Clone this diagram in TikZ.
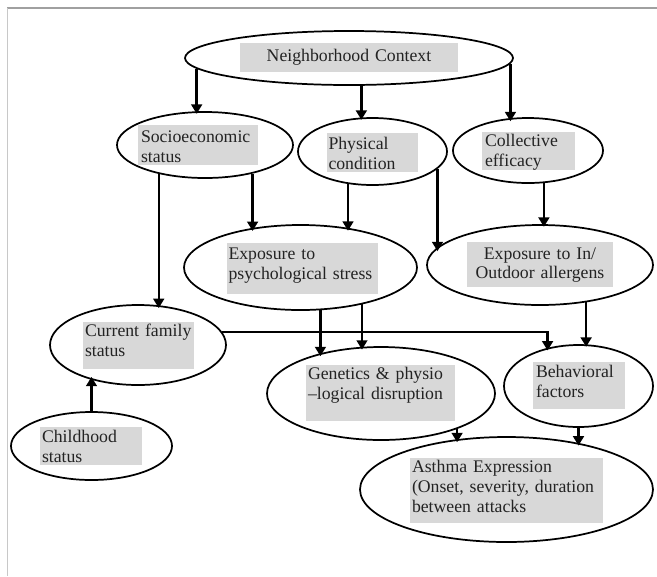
\documentclass[tikz,border=0pt]{standalone}
\usepackage{fontspec}
\setmainfont{Liberation Serif}
\usetikzlibrary{shapes.geometric,arrows.meta}
\definecolor{boxgray}{RGB}{216,216,216}
\definecolor{textcol}{RGB}{35,35,35}
\definecolor{frametop}{RGB}{160,160,160}
\definecolor{frameleft}{RGB}{200,200,200}
\tikzset{
  ell/.style 2 args={ellipse, draw=black, line width=1.3pt,
    minimum width=#1*1.5pt, minimum height=#2*1.5pt, inner sep=0pt},
  gbox/.style 2 args={fill=boxgray, inner sep=0pt,
    minimum width=#1*0.75pt, minimum height=#2*0.75pt},
  txt/.style={anchor=base west, inner sep=0pt, text width=220pt, align=left,
    font=\fontsize{13.3}{15}\selectfont, text=textcol},
  ctxt/.style={anchor=base, inner sep=0pt, text width=#1, align=center,
    font=\fontsize{13.3}{14}\selectfont, text=textcol},
  arr/.style={draw=black, line width=1.8pt, shorten >=-2pt,
    -{Triangle[length=7pt,width=8pt]}},
}
\begin{document}
\begin{tikzpicture}[x=0.75pt,y=-0.75pt]
\useasboundingbox (0,0) rectangle (657,576);
% frame
\draw[frametop, line width=1.2pt] (7,8) -- (657,8);
\draw[frameleft, line width=1.2pt] (7.5,8) -- (7.5,576);

% Neighborhood Context
\node[ell={164}{27}] (nc) at (349,58) {};
\node[gbox={218}{29}] (ncb) at (349,57.5) {};
\node[ctxt=160pt] (nct) at ([shift={(0,18.5)}]ncb.north) {Neighborhood Context};

% Socioeconomic status
\node[ell={88}{33}] (ses) at (205,145) {};
\node[gbox={120}{40}] (sesb) at (198,145) {};
\node[txt] (sest) at ([shift={(3,18)}]sesb.north west) {Socioeconomic\\status};

% Physical condition
\node[ell={74.5}{33.5}] (phys) at (372.5,151.5) {};
\node[gbox={91}{39}] (physb) at (372.5,152.5) {};
\node[txt] (phyt) at ([shift={(1.5,17)}]physb.north west) {Physical\\condition};

% Collective efficacy
\node[ell={75}{32.5}] (coll) at (528,150.5) {};
\node[gbox={93}{38}] (collb) at (528.5,151) {};
\node[txt] (collt) at ([shift={(3,15)}]collb.north west) {Collective\\efficacy};

% Exposure to psychological stress
\node[ell={116.5}{42.5}] (eps) at (300.5,267.5) {};
\node[gbox={151}{51}] (epsb) at (302.5,268.5) {};
\node[txt] (epst) at ([shift={(1.5,17)}]epsb.north west) {Exposure to\\psychological stress};

% Exposure to In/Outdoor allergens
\node[ell={113}{40}] (eio) at (540,265) {};
\node[gbox={146}{45}] (eiob) at (540,264.5) {};
\node[ctxt=140pt] (eiot) at ([shift={(0,18)}]eiob.north) {Exposure to In/\\Outdoor allergens};

% Current family status
\node[ell={88}{40}] (cfs) at (138,345) {};
\node[gbox={111}{47}] (cfsb) at (138.5,345.5) {};
\node[txt] (cfst) at ([shift={(2,15)}]cfsb.north west) {Current family\\status};

% Childhood status
\node[ell={80.5}{34}] (chs) at (91.5,446) {};
\node[gbox={102}{38}] (chsb) at (91,446) {};
\node[txt] (chst) at ([shift={(2,16)}]chsb.north west) {Childhood\\status};

% Genetics
\node[ell={114}{46.5}] (gen) at (381,393.5) {};
\node[gbox={149}{56}] (genb) at (380.5,393) {};
\node[txt] (gent) at ([shift={(2,15)}]genb.north west) {Genetics \& physio\\--logical disruption};

% Behavioral factors
\node[ell={74.5}{41}] (beh) at (578.5,386) {};
\node[gbox={92}{47}] (behb) at (579,385.5) {};
\node[txt] (beht) at ([shift={(3,16)}]behb.north west) {Behavioral\\factors};

% Asthma Expression
\node[ell={146.5}{52.5}] (ast) at (506.5,489.5) {};
\node[gbox={193}{65}] (astb) at (506.5,490.5) {};
\node[txt] (astt) at ([shift={(2,15)}]astb.north west) {Asthma Expression\\(Onset, severity, duration\\between attacks};

% connectors
\draw[arr] (nc.-176) -- (nc.-176 |- ses.north);
\draw[arr] (nc.-66) -- (nc.-66 |- phys.north);
\draw[arr] (nc.-2.8) -- (nc.-2.8 |- coll.125.4);
\draw[arr] (ses.-148.7) -- (ses.-148.7 |- cfs.61.6);
\draw[arr] (ses.-31.3) -- (ses.-31.3 |- eps.142.1);
\draw[arr] (phys.-127.8) -- (phys.-127.8 |- eps.39.2);
\draw[arr] (phys.-15.4) -- (phys.-15.4 |- eio.171.5);
\draw[arr] (coll.-64.7) -- (coll.-64.7 |- eio.north);
\draw[arr] (eps.-65) -- (eps.-65 |- gen.147.2);
\draw[arr] (eps.-31.5) -- (eps.-31.5 |- gen.114.7);
\draw[arr] (eio.-39.2) -- (eio.-39.2 |- beh.north);
\draw[arr] (cfs.9.6) -| (beh.129.2);
\draw[arr] (chs.north) -- (chs.north |- cfs.-144.3);
\draw[arr] (gen.-25.6) -- (gen.-25.6 |- ast.136.4);
\draw[arr] (beh.south) -- (beh.south |- ast.33.6);
\end{tikzpicture}
\end{document}
